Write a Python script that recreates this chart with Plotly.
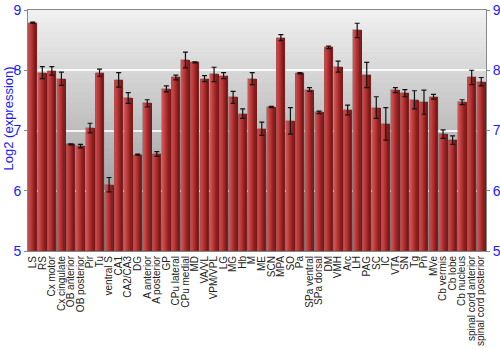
import plotly.graph_objects as go

labels = ["LS", "RS", "Cx motor", "Cx cingulate", "OB anterior", "OB posterior", "Pir", "Tu",
          "ventral S", "CA1", "CA2/CA3", "DG", "A anterior", "A posterior", "GP", "CPu lateral",
          "CPu medial", "MD", "VA/VL", "VPM/VPL", "LG", "MG", "Hb", "M", "ME", "SCN", "MPA", "SO",
          "Pa", "SPa ventral", "SPa dorsal", "DM", "VMH", "Arc", "LH", "PAG", "SC", "IC", "VTA",
          "SN", "Tg", "Pn", "MVe", "Cb vermis", "Cb lobe", "Cb nucleus", "spinal cord anterior",
          "spinal cord posterior"]
values = [8.79, 7.96, 7.99, 7.86, 6.77, 6.74, 7.04, 7.96,
          6.10, 7.84, 7.54, 6.60, 7.45, 6.61, 7.69, 7.88,
          8.17, 8.13, 7.86, 7.93, 7.91, 7.55, 7.28, 7.86, 7.03, 7.39, 8.54, 7.16,
          7.95, 7.68, 7.30, 8.38, 8.06, 7.34, 8.66, 7.92, 7.38, 7.11, 7.67,
          7.62, 7.51, 7.47, 7.56, 6.94, 6.84, 7.47, 7.88,
          7.81]
errors = [0.01, 0.10, 0.07, 0.11, 0.01, 0.03, 0.08, 0.06,
          0.12, 0.12, 0.09, 0.01, 0.06, 0.04, 0.05, 0.04,
          0.13, 0.01, 0.05, 0.12, 0.05, 0.10, 0.08, 0.10, 0.11, 0.01, 0.05, 0.22,
          0.01, 0.03, 0.02, 0.02, 0.09, 0.08, 0.12, 0.21, 0.18, 0.27, 0.04,
          0.06, 0.15, 0.20, 0.04, 0.07, 0.07, 0.04, 0.12,
          0.07]
y_ticks = [5, 6, 7, 8, 9]

xs = list(range(len(labels)))
BLUE = "#1a1aff"
BASE = 5

fig = go.Figure()

# bars built from vertical slices to mimic horizontal shading
slice_colors = ["#cf5858", "#c84a4a", "#c03e3e", "#b63535", "#aa2d2d", "#9c2424", "#8c1d1d", "#7a1717"]
bar_w = 0.84
n = len(slice_colors)
sw = bar_w / n
for i, c in enumerate(slice_colors):
    fig.add_trace(go.Bar(
        x=xs, y=[v - BASE for v in values], base=BASE,
        width=sw * 1.05, offset=-bar_w / 2 + i * sw,
        marker=dict(color=c, line=dict(width=0)),
        hoverinfo="skip", showlegend=False,
    ))
# outline + error bars
fig.add_trace(go.Bar(
    x=xs, y=[v - BASE for v in values], base=BASE,
    width=bar_w, offset=-bar_w / 2,
    marker=dict(color="rgba(0,0,0,0)", line=dict(width=0.6, color="rgba(110,60,60,0.7)")),
    error_y=dict(type="data", array=errors, visible=True, color="#111111", thickness=1.2, width=2.5),
    showlegend=False,
))
# invisible trace for the right axis
fig.add_trace(go.Scatter(x=[0], y=[BASE], yaxis="y2", mode="markers",
                         marker=dict(opacity=0), hoverinfo="skip", showlegend=False))

# gradient background bands
shapes = []
nb = 48
top = (0xf2, 0xf2, 0xf2)
bot = (0x8a, 0x8a, 0x8a)
for k in range(nb):
    t = (k + 0.5) / nb
    col = tuple(int(round(top[j] + (bot[j] - top[j]) * t)) for j in range(3))
    shapes.append(dict(type="rect", xref="x domain", yref="y domain",
                       x0=0, x1=1, y0=1 - (k + 1) / nb, y1=1 - k / nb + 0.012 if k else 1,
                       fillcolor="rgb(%d,%d,%d)" % col, line=dict(width=0), layer="below"))

fig.update_layout(
    width=500, height=350,
    margin=dict(l=28, r=14, t=10, b=99, autoexpand=False),
    paper_bgcolor="white", plot_bgcolor="white",
    barmode="overlay", bargap=0,
    shapes=shapes,
    font=dict(family="Liberation Sans, Arial, sans-serif"),
    xaxis=dict(range=[-0.5, len(labels) - 0.5], tickmode="array", tickvals=xs, ticktext=labels,
               tickangle=-90, tickfont=dict(size=10, color="#222222"), showgrid=False,
               showline=True, mirror=True, linecolor="#888888", linewidth=1, ticks="",
               zeroline=False, automargin=False),
    yaxis=dict(range=[5, 9], tickvals=y_ticks, tickfont=dict(size=14, color=BLUE),
               showgrid=True, gridcolor="rgba(255,255,255,0.85)", gridwidth=1.5,
               showline=True, linecolor="#888888", linewidth=1, ticks="outside",
               ticklen=3, tickcolor="#888888", zeroline=False, automargin=False),
    yaxis2=dict(range=[5, 9], tickvals=y_ticks, tickfont=dict(size=14, color=BLUE),
                overlaying="y", side="right", showgrid=False, showline=True,
                linecolor="#888888", linewidth=1, ticks="outside", ticklen=3,
                tickcolor="#888888", zeroline=False, automargin=False),
    annotations=[dict(text="Log2 (expression)", xref="paper", yref="paper", x=0, y=0.55,
                      xanchor="center", yanchor="middle", xshift=-20, textangle=-90,
                      showarrow=False, font=dict(size=13, color=BLUE))],
)

fig.write_html("out.html")
